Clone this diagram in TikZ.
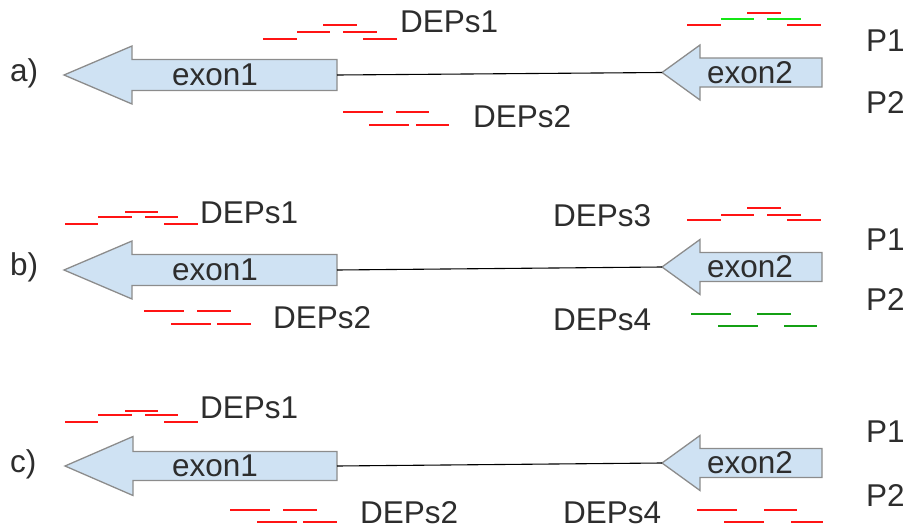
\documentclass[tikz,border=0pt]{standalone}
\usepackage{fontspec}
\setmainfont{Liberation Sans}
\begin{document}
\begin{tikzpicture}[x=1pt,y=-1pt,
  exonbox/.style={draw=black!45,fill=exfill,line width=1.3pt,line join=miter},
  conn/.style={draw=black,line width=1.1pt},
  lbl/.style={inner sep=0pt,anchor=west,text=txt,font=\fontsize{31.5}{36}\selectfont},
  clbl/.style={inner sep=0pt,text=txt,font=\fontsize{31.5}{36}\selectfont},
  rseg/.style={draw=segred,line width=1.5pt},
  gseg/.style={draw=seggreen,line width=1.5pt},
  dseg/.style={draw=seggreendk,line width=1.5pt}]
\definecolor{exfill}{RGB}{207,226,243}
\definecolor{txt}{RGB}{45,45,45}
\definecolor{segred}{RGB}{255,20,20}
\definecolor{seggreen}{RGB}{20,230,20}
\definecolor{seggreendk}{RGB}{20,160,20}
\useasboundingbox (0,0) rectangle (914,530);
\newcommand\exonarrow[7]{%
  \draw[exonbox] (#2,#3) -- (#4,#3-#6) -- (#4,#3-#7) -- (#5,#3-#7) -- (#5,#3+#7) -- (#4,#3+#7) -- (#4,#3+#6) -- cycle;
  \coordinate (#1tip) at (#2,#3);
  \coordinate (#1end) at (#5,#3);}
% ---------- row a ----------
\exonarrow{ae1}{64}{75}{132}{337}{29}{15.5}
\exonarrow{ae2}{662}{72.5}{700}{822}{27.5}{14.5}
\draw[conn] (ae1end) -- (ae2tip);
\node[clbl] (ax1) at (215,75) {exon1};
\node[clbl] (ax2) at (750,72.5) {exon2};
\node[lbl] (alab) at (10,73) {a)};
\node[lbl] (ad1) at (400,22) {DEPs1};
\node[lbl] (ad2) at (473,117) {DEPs2};
\node[lbl] (ap1) at (866,41) {P1};
\node[lbl] (ap2) at (866,103) {P2};
\draw[rseg] (263,39) -- (297,39);
\draw[rseg] (297,32) -- (330,32);
\draw[rseg] (323,25) -- (357,25);
\draw[rseg] (343,32) -- (377,32);
\draw[rseg] (363,39) -- (397,39);
\draw[rseg] (687,25) -- (721,25);
\draw[gseg] (721,19) -- (754,19);
\draw[rseg] (747,13) -- (781,13);
\draw[gseg] (767,19) -- (801,19);
\draw[rseg] (787,25) -- (821,25);
\draw[rseg] (343,112) -- (383,112);
\draw[rseg] (396,112) -- (429,112);
\draw[rseg] (369,125) -- (409,125);
\draw[rseg] (416,125) -- (449,125);
% ---------- row b ----------
\exonarrow{be1}{64}{270}{132}{337}{29}{15.5}
\exonarrow{be2}{662}{267}{700}{822}{27.5}{14.5}
\draw[conn] (be1end) -- (be2tip);
\node[clbl] (bx1) at (215,270) {exon1};
\node[clbl] (bx2) at (750,267) {exon2};
\node[lbl] (blab) at (10,267) {b)};
\node[lbl] (bd1) at (200,213) {DEPs1};
\node[lbl] (bd3) at (553,216) {DEPs3};
\node[lbl] (bd2) at (273,318) {DEPs2};
\node[lbl] (bd4) at (553,320) {DEPs4};
\node[lbl] (bp1) at (866,240) {P1};
\node[lbl] (bp2) at (866,300) {P2};
\draw[rseg] (65,224) -- (98,224);
\draw[rseg] (98,217) -- (132,217);
\draw[rseg] (125,212) -- (158,212);
\draw[rseg] (145,217) -- (178,217);
\draw[rseg] (164,224) -- (198,224);
\draw[rseg] (687,220) -- (721,220);
\draw[rseg] (721,215) -- (754,215);
\draw[rseg] (747,208) -- (781,208);
\draw[rseg] (767,215) -- (801,215);
\draw[rseg] (787,220) -- (821,220);
\draw[rseg] (144,311) -- (184,311);
\draw[rseg] (197,311) -- (231,311);
\draw[rseg] (171,324) -- (211,324);
\draw[rseg] (217,324) -- (251,324);
\draw[dseg] (691,314) -- (731,314);
\draw[dseg] (757,314) -- (791,314);
\draw[dseg] (718,326) -- (758,326);
\draw[dseg] (784,326) -- (817,326);
% ---------- row c ----------
\exonarrow{ce1}{65}{466}{133}{337}{29.5}{14.5}
\exonarrow{ce2}{662}{463}{700}{822}{27.5}{14.5}
\draw[conn] (ce1end) -- (ce2tip);
\node[clbl] (cx1) at (215,466) {exon1};
\node[clbl] (cx2) at (750,463) {exon2};
\node[lbl] (clab) at (10,464) {c)};
\node[lbl] (cd1) at (200,408) {DEPs1};
\node[lbl] (cd2) at (360,513) {DEPs2};
\node[lbl] (cd4) at (563,513) {DEPs4};
\node[lbl] (cp1) at (866,432) {P1};
\node[lbl] (cp2) at (866,495) {P2};
\draw[rseg] (65,422) -- (98,422);
\draw[rseg] (98,415) -- (132,415);
\draw[rseg] (125,411) -- (158,411);
\draw[rseg] (145,415) -- (178,415);
\draw[rseg] (164,422) -- (198,422);
\draw[rseg] (230,510) -- (270,510);
\draw[rseg] (283,510) -- (317,510);
\draw[rseg] (257,522) -- (297,522);
\draw[rseg] (303,522) -- (337,522);
\draw[rseg] (697,510) -- (737,510);
\draw[rseg] (764,510) -- (797,510);
\draw[rseg] (724,522) -- (764,522);
\draw[rseg] (791,522) -- (823,522);
\end{tikzpicture}
\end{document}
